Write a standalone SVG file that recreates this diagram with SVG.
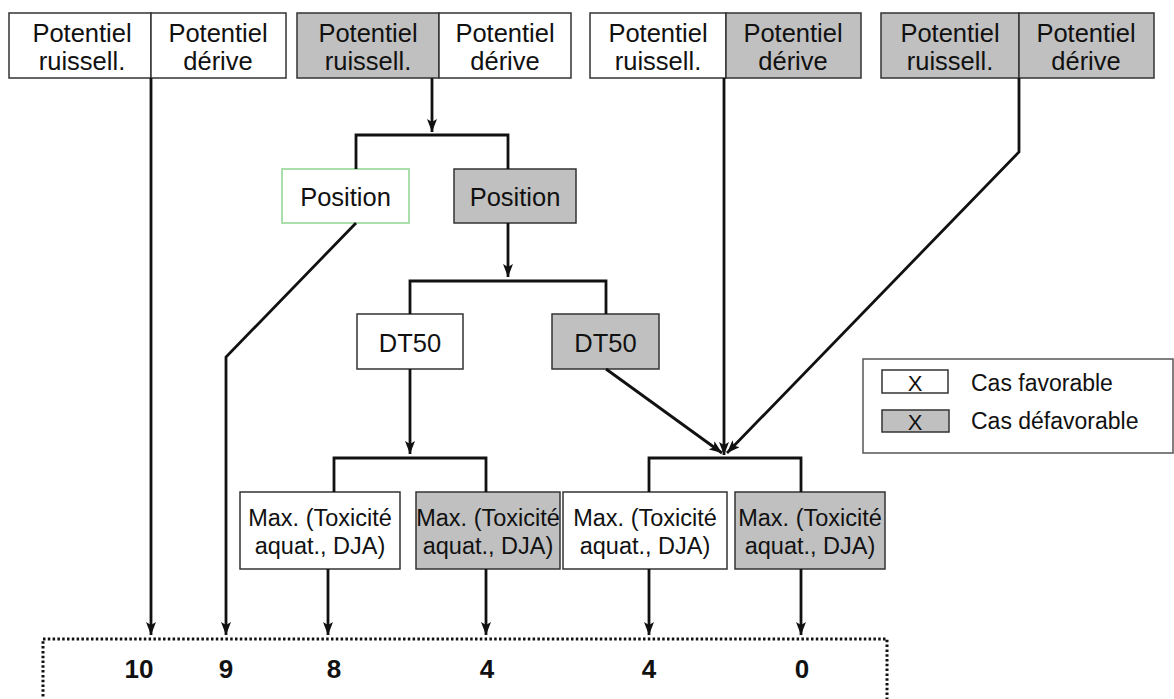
<svg xmlns="http://www.w3.org/2000/svg" width="1174" height="699" viewBox="0 0 1174 699">
<style>
.box{stroke:#333;stroke-width:1.5}
.w{fill:#fff}
.g{fill:#c0c0c0}
.t{font-family:"Liberation Sans",Arial,sans-serif;fill:#111;text-anchor:middle}
.p{font-size:25.5px}
.m{font-size:23.5px}
.n{font-size:26px;font-weight:bold}
.c{fill:none;stroke:#111;stroke-width:2.8}
.a{marker-end:url(#arr)}
</style>
<defs>
<marker id="arr" viewBox="0 0 13 10" refX="13" refY="5" markerWidth="13" markerHeight="10" markerUnits="userSpaceOnUse" orient="auto">
<path d="M0,0 L13,5 L0,10 L3,5 Z" fill="#111"/>
</marker>
</defs>
<rect width="1174" height="699" fill="#fff"/>

<g id="pair1">
<rect class="box w" x="9" y="13" width="142" height="65"/>
<rect class="box w" x="151" y="13" width="135" height="65"/>
<text class="t p" x="82" y="42">Potentiel</text>
<text class="t p" x="82" y="70">ruissell.</text>
<text class="t p" x="218" y="42">Potentiel</text>
<text class="t p" x="218" y="70">dérive</text>
</g>
<g id="pair2">
<rect class="box g" x="297" y="13" width="142" height="65"/>
<rect class="box w" x="439" y="13" width="132" height="65"/>
<text class="t p" x="368" y="42">Potentiel</text>
<text class="t p" x="368" y="70">ruissell.</text>
<text class="t p" x="505" y="42">Potentiel</text>
<text class="t p" x="505" y="70">dérive</text>
</g>
<g id="pair3">
<rect class="box w" x="590" y="13" width="136" height="65"/>
<rect class="box g" x="726" y="13" width="135" height="65"/>
<text class="t p" x="658" y="42">Potentiel</text>
<text class="t p" x="658" y="70">ruissell.</text>
<text class="t p" x="793" y="42">Potentiel</text>
<text class="t p" x="793" y="70">dérive</text>
</g>
<g id="pair4">
<rect class="box g" x="881" y="13" width="138" height="65"/>
<rect class="box g" x="1019" y="13" width="135" height="65"/>
<text class="t p" x="950" y="42">Potentiel</text>
<text class="t p" x="950" y="70">ruissell.</text>
<text class="t p" x="1086" y="42">Potentiel</text>
<text class="t p" x="1086" y="70">dérive</text>
</g>

<g id="position-fav">
<rect x="282" y="169" width="127" height="54" fill="#fff" stroke="#8fd48f" stroke-width="1.5"/>
<text class="t p" x="345.5" y="206">Position</text>
</g>
<g id="position-defav">
<rect class="box g" x="454" y="169" width="122" height="54"/>
<text class="t p" x="515" y="206">Position</text>
</g>

<g id="dt50-fav">
<rect class="box w" x="357" y="314" width="106" height="55"/>
<text class="t p" x="410" y="352">DT50</text>
</g>
<g id="dt50-defav">
<rect class="box g" x="552" y="314" width="107" height="55"/>
<text class="t p" x="605.5" y="352">DT50</text>
</g>

<g id="max1">
<rect class="box w" x="240" y="492" width="160" height="77"/>
<text class="t m" x="320" y="526">Max. (Toxicité</text>
<text class="t m" x="320" y="554">aquat., DJA)</text>
</g>
<g id="max2">
<rect class="box g" x="416" y="492" width="144" height="77"/>
<text class="t m" x="488" y="526">Max. (Toxicité</text>
<text class="t m" x="488" y="554">aquat., DJA)</text>
</g>
<g id="max3">
<rect class="box w" x="563" y="492" width="164" height="77"/>
<text class="t m" x="645" y="526">Max. (Toxicité</text>
<text class="t m" x="645" y="554">aquat., DJA)</text>
</g>
<g id="max4">
<rect class="box g" x="735" y="492" width="150" height="77"/>
<text class="t m" x="810" y="526">Max. (Toxicité</text>
<text class="t m" x="810" y="554">aquat., DJA)</text>
</g>

<g id="legend">
<rect x="863" y="359" width="310" height="94" fill="#fff" stroke="#555" stroke-width="1.5"/>
<rect class="box w" x="882" y="370" width="66" height="23"/>
<rect class="box g" x="882" y="410" width="67" height="22"/>
<text class="t" x="915" y="391" font-size="22">X</text>
<text class="t" x="915" y="430" font-size="22">X</text>
<text class="t" x="971" y="391" font-size="23" style="text-anchor:start">Cas favorable</text>
<text class="t" x="971" y="429" font-size="23" style="text-anchor:start">Cas défavorable</text>
</g>

<g id="results">
<rect x="43" y="639" width="844" height="80" fill="none" stroke="#111" stroke-width="3" stroke-dasharray="2.5 2.3"/>
<text class="t n" x="139" y="678">10</text>
<text class="t n" x="226" y="678">9</text>
<text class="t n" x="334" y="678">8</text>
<text class="t n" x="487" y="678">4</text>
<text class="t n" x="649" y="678">4</text>
<text class="t n" x="802" y="678">0</text>
</g>

<g id="connectors">
<path class="c a" d="M151,78 V635"/>
<path class="c a" d="M432,78 V132"/>
<path class="c" d="M356,169 V135 H508 V169"/>
<path class="c a" d="M356,223 L226,357 V635"/>
<path class="c a" d="M508,223 V277"/>
<path class="c" d="M410,314 V281 H606 V314"/>
<path class="c a" d="M410,369 V454"/>
<path class="c" d="M334,492 V458 H486 V492"/>
<path class="c a" d="M606,369 L722,453"/>
<path class="c a" d="M724,78 V455"/>
<path class="c a" d="M1019,78 V152 L727,453"/>
<path class="c" d="M649,492 V458 H801 V492"/>
<path class="c a" d="M328,569 V635"/>
<path class="c a" d="M486,569 V635"/>
<path class="c a" d="M649,569 V635"/>
<path class="c a" d="M801,569 V635"/>
</g>
</svg>
